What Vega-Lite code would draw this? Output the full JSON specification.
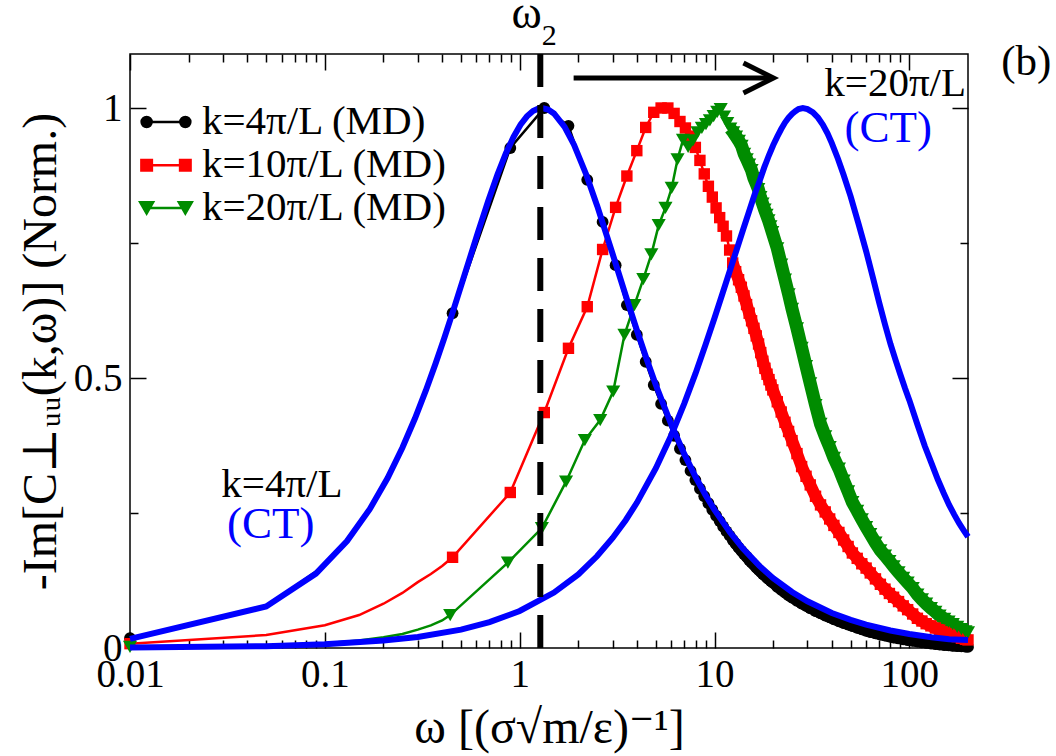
{
  "$schema": "https://vega.github.io/schema/vega-lite/v6.json",
  "width": 838,
  "height": 594,
  "autosize": {"type": "none"},
  "padding": {"left": 130, "top": 54, "right": 88, "bottom": 108},
  "background": "white",
  "datasets": {
    "md": [
      {"k": "4π/L", "w": 0.01, "v": 0.018},
      {"k": "4π/L", "w": 0.05, "v": 0.077},
      {"k": "4π/L", "w": 0.1, "v": 0.153},
      {"k": "4π/L", "w": 0.15, "v": 0.228},
      {"k": "4π/L", "w": 0.2, "v": 0.3},
      {"k": "4π/L", "w": 0.25, "v": 0.371},
      {"k": "4π/L", "w": 0.3, "v": 0.438},
      {"k": "4π/L", "w": 0.35, "v": 0.502},
      {"k": "4π/L", "w": 0.4, "v": 0.562},
      {"k": "4π/L", "w": 0.4525, "v": 0.62},
      {"k": "4π/L", "w": 0.895, "v": 0.926},
      {"k": "4π/L", "w": 1.3375, "v": 1.0},
      {"k": "4π/L", "w": 1.78, "v": 0.967},
      {"k": "4π/L", "w": 2.2225, "v": 0.867},
      {"k": "4π/L", "w": 2.665, "v": 0.789},
      {"k": "4π/L", "w": 3.1075, "v": 0.709},
      {"k": "4π/L", "w": 3.55, "v": 0.635},
      {"k": "4π/L", "w": 3.9925, "v": 0.58},
      {"k": "4π/L", "w": 4.435, "v": 0.53},
      {"k": "4π/L", "w": 4.8775, "v": 0.487},
      {"k": "4π/L", "w": 5.32, "v": 0.452},
      {"k": "4π/L", "w": 5.7625, "v": 0.421},
      {"k": "4π/L", "w": 6.205, "v": 0.393},
      {"k": "4π/L", "w": 6.6475, "v": 0.369},
      {"k": "4π/L", "w": 7.09, "v": 0.348},
      {"k": "4π/L", "w": 7.5325, "v": 0.328},
      {"k": "4π/L", "w": 7.975, "v": 0.311},
      {"k": "4π/L", "w": 8.4175, "v": 0.295},
      {"k": "4π/L", "w": 8.86, "v": 0.281},
      {"k": "4π/L", "w": 9.3025, "v": 0.268},
      {"k": "4π/L", "w": 9.745, "v": 0.256},
      {"k": "4π/L", "w": 10.1875, "v": 0.245},
      {"k": "4π/L", "w": 10.63, "v": 0.235},
      {"k": "4π/L", "w": 11.07, "v": 0.225},
      {"k": "4π/L", "w": 11.52, "v": 0.216},
      {"k": "4π/L", "w": 11.96, "v": 0.208},
      {"k": "4π/L", "w": 12.4, "v": 0.2},
      {"k": "4π/L", "w": 12.84, "v": 0.193},
      {"k": "4π/L", "w": 13.29, "v": 0.186},
      {"k": "4π/L", "w": 13.73, "v": 0.18},
      {"k": "4π/L", "w": 14.17, "v": 0.174},
      {"k": "4π/L", "w": 14.61, "v": 0.169},
      {"k": "4π/L", "w": 15.06, "v": 0.163},
      {"k": "4π/L", "w": 15.5, "v": 0.158},
      {"k": "4π/L", "w": 15.94, "v": 0.154},
      {"k": "4π/L", "w": 16.38, "v": 0.149},
      {"k": "4π/L", "w": 16.83, "v": 0.145},
      {"k": "4π/L", "w": 17.27, "v": 0.141},
      {"k": "4π/L", "w": 17.71, "v": 0.137},
      {"k": "4π/L", "w": 18.15, "v": 0.134},
      {"k": "4π/L", "w": 18.6, "v": 0.13},
      {"k": "4π/L", "w": 19.04, "v": 0.127},
      {"k": "4π/L", "w": 19.48, "v": 0.124},
      {"k": "4π/L", "w": 19.92, "v": 0.121},
      {"k": "4π/L", "w": 21, "v": 0.1135},
      {"k": "4π/L", "w": 22, "v": 0.1078},
      {"k": "4π/L", "w": 23, "v": 0.1025},
      {"k": "4π/L", "w": 24, "v": 0.0977},
      {"k": "4π/L", "w": 25, "v": 0.0933},
      {"k": "4π/L", "w": 26.5, "v": 0.0876},
      {"k": "4π/L", "w": 28, "v": 0.0824},
      {"k": "4π/L", "w": 29.5, "v": 0.0779},
      {"k": "4π/L", "w": 31, "v": 0.0737},
      {"k": "4π/L", "w": 33, "v": 0.0685},
      {"k": "4π/L", "w": 35, "v": 0.0642},
      {"k": "4π/L", "w": 37, "v": 0.06},
      {"k": "4π/L", "w": 39, "v": 0.0566},
      {"k": "4π/L", "w": 41, "v": 0.0533},
      {"k": "4π/L", "w": 43.5, "v": 0.0496},
      {"k": "4π/L", "w": 46, "v": 0.0463},
      {"k": "4π/L", "w": 48.5, "v": 0.0434},
      {"k": "4π/L", "w": 51, "v": 0.0408},
      {"k": "4π/L", "w": 54, "v": 0.0375},
      {"k": "4π/L", "w": 57, "v": 0.0347},
      {"k": "4π/L", "w": 60, "v": 0.032},
      {"k": "4π/L", "w": 63, "v": 0.0297},
      {"k": "4π/L", "w": 67, "v": 0.0272},
      {"k": "4π/L", "w": 71, "v": 0.0249},
      {"k": "4π/L", "w": 75, "v": 0.0229},
      {"k": "4π/L", "w": 79, "v": 0.021},
      {"k": "4π/L", "w": 83, "v": 0.0194},
      {"k": "4π/L", "w": 88, "v": 0.0177},
      {"k": "4π/L", "w": 93, "v": 0.0162},
      {"k": "4π/L", "w": 98, "v": 0.0148},
      {"k": "4π/L", "w": 104, "v": 0.0133},
      {"k": "4π/L", "w": 110, "v": 0.0118},
      {"k": "4π/L", "w": 116, "v": 0.0105},
      {"k": "4π/L", "w": 122, "v": 0.0094},
      {"k": "4π/L", "w": 129, "v": 0.0083},
      {"k": "4π/L", "w": 136, "v": 0.0073},
      {"k": "4π/L", "w": 143, "v": 0.0064},
      {"k": "4π/L", "w": 151, "v": 0.0055},
      {"k": "4π/L", "w": 159, "v": 0.0048},
      {"k": "4π/L", "w": 167, "v": 0.0041},
      {"k": "4π/L", "w": 176, "v": 0.0034},
      {"k": "4π/L", "w": 185, "v": 0.003},
      {"k": "4π/L", "w": 194, "v": 0.0025},
      {"k": "4π/L", "w": 200, "v": 0.002},

      {"k": "10π/L", "w": 0.01, "v": 0.008},
      {"k": "10π/L", "w": 0.05, "v": 0.024},
      {"k": "10π/L", "w": 0.1, "v": 0.042},
      {"k": "10π/L", "w": 0.15, "v": 0.061},
      {"k": "10π/L", "w": 0.2, "v": 0.082},
      {"k": "10π/L", "w": 0.25, "v": 0.102},
      {"k": "10π/L", "w": 0.3, "v": 0.122},
      {"k": "10π/L", "w": 0.35, "v": 0.137},
      {"k": "10π/L", "w": 0.4, "v": 0.152},
      {"k": "10π/L", "w": 0.4525, "v": 0.168},
      {"k": "10π/L", "w": 0.895, "v": 0.288},
      {"k": "10π/L", "w": 1.3375, "v": 0.436},
      {"k": "10π/L", "w": 1.78, "v": 0.555},
      {"k": "10π/L", "w": 2.2225, "v": 0.632},
      {"k": "10π/L", "w": 2.665, "v": 0.738},
      {"k": "10π/L", "w": 3.1075, "v": 0.816},
      {"k": "10π/L", "w": 3.55, "v": 0.874},
      {"k": "10π/L", "w": 3.9925, "v": 0.921},
      {"k": "10π/L", "w": 4.435, "v": 0.964},
      {"k": "10π/L", "w": 4.8775, "v": 0.992},
      {"k": "10π/L", "w": 5.32, "v": 1.0},
      {"k": "10π/L", "w": 5.7625, "v": 1.0},
      {"k": "10π/L", "w": 6.205, "v": 0.99},
      {"k": "10π/L", "w": 6.6475, "v": 0.975},
      {"k": "10π/L", "w": 7.09, "v": 0.963},
      {"k": "10π/L", "w": 7.5325, "v": 0.948},
      {"k": "10π/L", "w": 7.975, "v": 0.927},
      {"k": "10π/L", "w": 8.4175, "v": 0.903},
      {"k": "10π/L", "w": 8.86, "v": 0.878},
      {"k": "10π/L", "w": 9.3025, "v": 0.855},
      {"k": "10π/L", "w": 9.745, "v": 0.835},
      {"k": "10π/L", "w": 10.1875, "v": 0.815},
      {"k": "10π/L", "w": 10.63, "v": 0.797},
      {"k": "10π/L", "w": 11.07, "v": 0.781},
      {"k": "10π/L", "w": 11.52, "v": 0.763},
      {"k": "10π/L", "w": 11.96, "v": 0.737},
      {"k": "10π/L", "w": 12.4, "v": 0.713},
      {"k": "10π/L", "w": 12.84, "v": 0.697},
      {"k": "10π/L", "w": 13.29, "v": 0.682},
      {"k": "10π/L", "w": 13.73, "v": 0.668},
      {"k": "10π/L", "w": 14.17, "v": 0.652},
      {"k": "10π/L", "w": 14.61, "v": 0.636},
      {"k": "10π/L", "w": 15.06, "v": 0.62},
      {"k": "10π/L", "w": 15.5, "v": 0.606},
      {"k": "10π/L", "w": 15.94, "v": 0.592},
      {"k": "10π/L", "w": 16.38, "v": 0.578},
      {"k": "10π/L", "w": 16.83, "v": 0.563},
      {"k": "10π/L", "w": 17.27, "v": 0.547},
      {"k": "10π/L", "w": 17.71, "v": 0.531},
      {"k": "10π/L", "w": 18.15, "v": 0.518},
      {"k": "10π/L", "w": 18.6, "v": 0.507},
      {"k": "10π/L", "w": 19.04, "v": 0.497},
      {"k": "10π/L", "w": 19.48, "v": 0.487},
      {"k": "10π/L", "w": 19.92, "v": 0.478},
      {"k": "10π/L", "w": 21, "v": 0.456},
      {"k": "10π/L", "w": 22, "v": 0.437},
      {"k": "10π/L", "w": 23, "v": 0.418},
      {"k": "10π/L", "w": 24, "v": 0.401},
      {"k": "10π/L", "w": 25, "v": 0.384},
      {"k": "10π/L", "w": 26.5, "v": 0.36},
      {"k": "10π/L", "w": 28, "v": 0.336},
      {"k": "10π/L", "w": 29.5, "v": 0.318},
      {"k": "10π/L", "w": 31, "v": 0.302},
      {"k": "10π/L", "w": 33, "v": 0.281},
      {"k": "10π/L", "w": 35, "v": 0.265},
      {"k": "10π/L", "w": 37, "v": 0.252},
      {"k": "10π/L", "w": 39, "v": 0.239},
      {"k": "10π/L", "w": 41, "v": 0.227},
      {"k": "10π/L", "w": 43.5, "v": 0.214},
      {"k": "10π/L", "w": 46, "v": 0.2},
      {"k": "10π/L", "w": 48.5, "v": 0.188},
      {"k": "10π/L", "w": 51, "v": 0.176},
      {"k": "10π/L", "w": 54, "v": 0.166},
      {"k": "10π/L", "w": 57, "v": 0.156},
      {"k": "10π/L", "w": 60, "v": 0.148},
      {"k": "10π/L", "w": 63, "v": 0.139},
      {"k": "10π/L", "w": 67, "v": 0.128},
      {"k": "10π/L", "w": 71, "v": 0.118},
      {"k": "10π/L", "w": 75, "v": 0.109},
      {"k": "10π/L", "w": 79, "v": 0.101},
      {"k": "10π/L", "w": 83, "v": 0.094},
      {"k": "10π/L", "w": 88, "v": 0.086},
      {"k": "10π/L", "w": 93, "v": 0.078},
      {"k": "10π/L", "w": 98, "v": 0.071},
      {"k": "10π/L", "w": 104, "v": 0.063},
      {"k": "10π/L", "w": 110, "v": 0.055},
      {"k": "10π/L", "w": 116, "v": 0.05},
      {"k": "10π/L", "w": 122, "v": 0.045},
      {"k": "10π/L", "w": 129, "v": 0.041},
      {"k": "10π/L", "w": 136, "v": 0.037},
      {"k": "10π/L", "w": 143, "v": 0.034},
      {"k": "10π/L", "w": 151, "v": 0.03},
      {"k": "10π/L", "w": 159, "v": 0.027},
      {"k": "10π/L", "w": 167, "v": 0.024},
      {"k": "10π/L", "w": 176, "v": 0.021},
      {"k": "10π/L", "w": 185, "v": 0.018},
      {"k": "10π/L", "w": 194, "v": 0.016},
      {"k": "10π/L", "w": 200, "v": 0.015},

      {"k": "20π/L", "w": 0.01, "v": 0.002},
      {"k": "20π/L", "w": 0.05, "v": 0.004},
      {"k": "20π/L", "w": 0.1, "v": 0.009},
      {"k": "20π/L", "w": 0.15, "v": 0.014},
      {"k": "20π/L", "w": 0.2, "v": 0.02},
      {"k": "20π/L", "w": 0.25, "v": 0.026},
      {"k": "20π/L", "w": 0.3, "v": 0.034},
      {"k": "20π/L", "w": 0.35, "v": 0.042},
      {"k": "20π/L", "w": 0.4, "v": 0.051},
      {"k": "20π/L", "w": 0.44, "v": 0.061},
      {"k": "20π/L", "w": 0.87, "v": 0.158},
      {"k": "20π/L", "w": 1.3, "v": 0.222},
      {"k": "20π/L", "w": 1.73, "v": 0.308},
      {"k": "20π/L", "w": 2.16, "v": 0.385},
      {"k": "20π/L", "w": 2.59, "v": 0.422},
      {"k": "20π/L", "w": 3.02, "v": 0.475},
      {"k": "20π/L", "w": 3.45, "v": 0.58},
      {"k": "20π/L", "w": 3.88, "v": 0.635},
      {"k": "20π/L", "w": 4.31, "v": 0.683},
      {"k": "20π/L", "w": 4.74, "v": 0.729},
      {"k": "20π/L", "w": 5.17, "v": 0.783},
      {"k": "20π/L", "w": 5.6, "v": 0.815},
      {"k": "20π/L", "w": 6.03, "v": 0.852},
      {"k": "20π/L", "w": 6.46, "v": 0.905},
      {"k": "20π/L", "w": 6.89, "v": 0.941},
      {"k": "20π/L", "w": 7.32, "v": 0.928},
      {"k": "20π/L", "w": 7.75, "v": 0.94},
      {"k": "20π/L", "w": 8.18, "v": 0.955},
      {"k": "20π/L", "w": 8.61, "v": 0.963},
      {"k": "20π/L", "w": 9.04, "v": 0.97},
      {"k": "20π/L", "w": 9.47, "v": 0.977},
      {"k": "20π/L", "w": 9.9, "v": 0.985},
      {"k": "20π/L", "w": 10.33, "v": 0.993},
      {"k": "20π/L", "w": 10.76, "v": 0.998},
      {"k": "20π/L", "w": 11.19, "v": 0.984},
      {"k": "20π/L", "w": 11.62, "v": 0.972},
      {"k": "20π/L", "w": 12.05, "v": 0.962},
      {"k": "20π/L", "w": 12.48, "v": 0.955},
      {"k": "20π/L", "w": 12.91, "v": 0.947},
      {"k": "20π/L", "w": 13.34, "v": 0.939},
      {"k": "20π/L", "w": 13.77, "v": 0.93},
      {"k": "20π/L", "w": 14.2, "v": 0.915},
      {"k": "20π/L", "w": 14.63, "v": 0.905},
      {"k": "20π/L", "w": 15.06, "v": 0.895},
      {"k": "20π/L", "w": 15.49, "v": 0.885},
      {"k": "20π/L", "w": 15.92, "v": 0.87},
      {"k": "20π/L", "w": 16.35, "v": 0.86},
      {"k": "20π/L", "w": 16.78, "v": 0.85},
      {"k": "20π/L", "w": 17.21, "v": 0.835},
      {"k": "20π/L", "w": 17.64, "v": 0.823},
      {"k": "20π/L", "w": 18.07, "v": 0.812},
      {"k": "20π/L", "w": 18.5, "v": 0.802},
      {"k": "20π/L", "w": 18.93, "v": 0.792},
      {"k": "20π/L", "w": 19.36, "v": 0.781},
      {"k": "20π/L", "w": 19.79, "v": 0.77},
      {"k": "20π/L", "w": 21, "v": 0.74},
      {"k": "20π/L", "w": 22, "v": 0.71},
      {"k": "20π/L", "w": 23, "v": 0.682},
      {"k": "20π/L", "w": 24, "v": 0.655},
      {"k": "20π/L", "w": 25, "v": 0.628},
      {"k": "20π/L", "w": 26.5, "v": 0.592},
      {"k": "20π/L", "w": 28, "v": 0.556},
      {"k": "20π/L", "w": 29.5, "v": 0.522},
      {"k": "20π/L", "w": 31, "v": 0.49},
      {"k": "20π/L", "w": 33, "v": 0.45},
      {"k": "20π/L", "w": 35, "v": 0.415},
      {"k": "20π/L", "w": 37, "v": 0.392},
      {"k": "20π/L", "w": 39, "v": 0.372},
      {"k": "20π/L", "w": 41, "v": 0.352},
      {"k": "20π/L", "w": 43.5, "v": 0.332},
      {"k": "20π/L", "w": 46, "v": 0.31},
      {"k": "20π/L", "w": 48.5, "v": 0.29},
      {"k": "20π/L", "w": 51, "v": 0.27},
      {"k": "20π/L", "w": 54, "v": 0.254},
      {"k": "20π/L", "w": 57, "v": 0.238},
      {"k": "20π/L", "w": 60, "v": 0.224},
      {"k": "20π/L", "w": 63, "v": 0.211},
      {"k": "20π/L", "w": 67, "v": 0.195},
      {"k": "20π/L", "w": 71, "v": 0.181},
      {"k": "20π/L", "w": 75, "v": 0.171},
      {"k": "20π/L", "w": 79, "v": 0.161},
      {"k": "20π/L", "w": 83, "v": 0.151},
      {"k": "20π/L", "w": 88, "v": 0.14},
      {"k": "20π/L", "w": 93, "v": 0.13},
      {"k": "20π/L", "w": 98, "v": 0.121},
      {"k": "20π/L", "w": 104, "v": 0.111},
      {"k": "20π/L", "w": 110, "v": 0.099},
      {"k": "20π/L", "w": 116, "v": 0.09},
      {"k": "20π/L", "w": 122, "v": 0.082},
      {"k": "20π/L", "w": 129, "v": 0.074},
      {"k": "20π/L", "w": 136, "v": 0.067},
      {"k": "20π/L", "w": 143, "v": 0.06},
      {"k": "20π/L", "w": 151, "v": 0.054},
      {"k": "20π/L", "w": 159, "v": 0.049},
      {"k": "20π/L", "w": 167, "v": 0.044},
      {"k": "20π/L", "w": 176, "v": 0.039},
      {"k": "20π/L", "w": 185, "v": 0.035},
      {"k": "20π/L", "w": 194, "v": 0.031},
      {"k": "20π/L", "w": 200, "v": 0.029}
    ],
    "ct": [
      {"k": "4π/L", "w": 0.01, "v": 0.017},
      {"k": "4π/L", "w": 0.05, "v": 0.0768},
      {"k": "4π/L", "w": 0.09, "v": 0.1378},
      {"k": "4π/L", "w": 0.13, "v": 0.198},
      {"k": "4π/L", "w": 0.17, "v": 0.2571},
      {"k": "4π/L", "w": 0.21, "v": 0.3148},
      {"k": "4π/L", "w": 0.25, "v": 0.3709},
      {"k": "4π/L", "w": 0.29, "v": 0.425},
      {"k": "4π/L", "w": 0.33, "v": 0.477},
      {"k": "4π/L", "w": 0.37, "v": 0.5266},
      {"k": "4π/L", "w": 0.41, "v": 0.5737},
      {"k": "4π/L", "w": 0.45, "v": 0.6183},
      {"k": "4π/L", "w": 0.53, "v": 0.6992},
      {"k": "4π/L", "w": 0.61, "v": 0.7691},
      {"k": "4π/L", "w": 0.69, "v": 0.8282},
      {"k": "4π/L", "w": 0.77, "v": 0.877},
      {"k": "4π/L", "w": 0.85, "v": 0.9161},
      {"k": "4π/L", "w": 0.93, "v": 0.9464},
      {"k": "4π/L", "w": 1.01, "v": 0.969},
      {"k": "4π/L", "w": 1.09, "v": 0.9846},
      {"k": "4π/L", "w": 1.17, "v": 0.9945},
      {"k": "4π/L", "w": 1.25, "v": 0.9992},
      {"k": "4π/L", "w": 1.3, "v": 1.0},
      {"k": "4π/L", "w": 1.4, "v": 0.9973},
      {"k": "4π/L", "w": 1.5, "v": 0.9899},
      {"k": "4π/L", "w": 1.7, "v": 0.9651},
      {"k": "4π/L", "w": 1.9, "v": 0.9321},
      {"k": "4π/L", "w": 2.2, "v": 0.876},
      {"k": "4π/L", "w": 2.5, "v": 0.8186},
      {"k": "4π/L", "w": 3, "v": 0.7297},
      {"k": "4π/L", "w": 3.5, "v": 0.6528},
      {"k": "4π/L", "w": 4, "v": 0.5879},
      {"k": "4π/L", "w": 4.5, "v": 0.5333},
      {"k": "4π/L", "w": 5, "v": 0.4871},
      {"k": "4π/L", "w": 6, "v": 0.4139},
      {"k": "4π/L", "w": 7, "v": 0.359},
      {"k": "4π/L", "w": 8, "v": 0.3166},
      {"k": "4π/L", "w": 9, "v": 0.283},
      {"k": "4π/L", "w": 10, "v": 0.2557},
      {"k": "4π/L", "w": 12, "v": 0.2142},
      {"k": "4π/L", "w": 14, "v": 0.1841},
      {"k": "4π/L", "w": 17, "v": 0.152},
      {"k": "4π/L", "w": 20, "v": 0.1294},
      {"k": "4π/L", "w": 25, "v": 0.1037},
      {"k": "4π/L", "w": 30, "v": 0.0865},
      {"k": "4π/L", "w": 40, "v": 0.0649},
      {"k": "4π/L", "w": 50, "v": 0.052},
      {"k": "4π/L", "w": 60, "v": 0.0433},
      {"k": "4π/L", "w": 80, "v": 0.0325},
      {"k": "4π/L", "w": 100, "v": 0.026},
      {"k": "4π/L", "w": 130, "v": 0.02},
      {"k": "4π/L", "w": 160, "v": 0.0163},
      {"k": "4π/L", "w": 200, "v": 0.015},

      {"k": "20π/L", "w": 0.01, "v": 0.0007},
      {"k": "20π/L", "w": 0.05, "v": 0.0034},
      {"k": "20π/L", "w": 0.1, "v": 0.0068},
      {"k": "20π/L", "w": 0.2, "v": 0.0137},
      {"k": "20π/L", "w": 0.3, "v": 0.0205},
      {"k": "20π/L", "w": 0.5, "v": 0.0341},
      {"k": "20π/L", "w": 0.7, "v": 0.0478},
      {"k": "20π/L", "w": 1, "v": 0.0685},
      {"k": "20π/L", "w": 1.5, "v": 0.1027},
      {"k": "20π/L", "w": 2, "v": 0.1362},
      {"k": "20π/L", "w": 2.5, "v": 0.1703},
      {"k": "20π/L", "w": 3, "v": 0.2037},
      {"k": "20π/L", "w": 3.5, "v": 0.2367},
      {"k": "20π/L", "w": 4, "v": 0.2693},
      {"k": "20π/L", "w": 5, "v": 0.333},
      {"k": "20π/L", "w": 6, "v": 0.394},
      {"k": "20π/L", "w": 7, "v": 0.453},
      {"k": "20π/L", "w": 8, "v": 0.509},
      {"k": "20π/L", "w": 9, "v": 0.562},
      {"k": "20π/L", "w": 10, "v": 0.611},
      {"k": "20π/L", "w": 11, "v": 0.657},
      {"k": "20π/L", "w": 12, "v": 0.699},
      {"k": "20π/L", "w": 13, "v": 0.738},
      {"k": "20π/L", "w": 14, "v": 0.774},
      {"k": "20π/L", "w": 15, "v": 0.807},
      {"k": "20π/L", "w": 16, "v": 0.838},
      {"k": "20π/L", "w": 17, "v": 0.864},
      {"k": "20π/L", "w": 18, "v": 0.89},
      {"k": "20π/L", "w": 19, "v": 0.912},
      {"k": "20π/L", "w": 20, "v": 0.931},
      {"k": "20π/L", "w": 21, "v": 0.947},
      {"k": "20π/L", "w": 22, "v": 0.961},
      {"k": "20π/L", "w": 23, "v": 0.973},
      {"k": "20π/L", "w": 24, "v": 0.982},
      {"k": "20π/L", "w": 25, "v": 0.989},
      {"k": "20π/L", "w": 26, "v": 0.994},
      {"k": "20π/L", "w": 27, "v": 0.998},
      {"k": "20π/L", "w": 28.4, "v": 1.0},
      {"k": "20π/L", "w": 30, "v": 0.998},
      {"k": "20π/L", "w": 32, "v": 0.992},
      {"k": "20π/L", "w": 34, "v": 0.982},
      {"k": "20π/L", "w": 36, "v": 0.969},
      {"k": "20π/L", "w": 38, "v": 0.953},
      {"k": "20π/L", "w": 40, "v": 0.935},
      {"k": "20π/L", "w": 43, "v": 0.906},
      {"k": "20π/L", "w": 46, "v": 0.876},
      {"k": "20π/L", "w": 50, "v": 0.836},
      {"k": "20π/L", "w": 55, "v": 0.784},
      {"k": "20π/L", "w": 60, "v": 0.735},
      {"k": "20π/L", "w": 65, "v": 0.686},
      {"k": "20π/L", "w": 70, "v": 0.64},
      {"k": "20π/L", "w": 75, "v": 0.599},
      {"k": "20π/L", "w": 80, "v": 0.563},
      {"k": "20π/L", "w": 85, "v": 0.533},
      {"k": "20π/L", "w": 90, "v": 0.506},
      {"k": "20π/L", "w": 95, "v": 0.481},
      {"k": "20π/L", "w": 100, "v": 0.459},
      {"k": "20π/L", "w": 110, "v": 0.414},
      {"k": "20π/L", "w": 120, "v": 0.374},
      {"k": "20π/L", "w": 130, "v": 0.342},
      {"k": "20π/L", "w": 140, "v": 0.312},
      {"k": "20π/L", "w": 150, "v": 0.287},
      {"k": "20π/L", "w": 160, "v": 0.265},
      {"k": "20π/L", "w": 170, "v": 0.247},
      {"k": "20π/L", "w": 180, "v": 0.231},
      {"k": "20π/L", "w": 190, "v": 0.218},
      {"k": "20π/L", "w": 200, "v": 0.206}
    ]
  },
  "layer": [
    {
      "data": {"name": "md"},
      "mark": {"type": "line", "strokeWidth": 2.5},
      "encoding": {
        "x": {"field": "w", "type": "quantitative", "scale": {"type": "log", "domain": [0.01, 200], "nice": false},
          "axis": {"orient": "bottom", "values": [0.02,0.03,0.04,0.05,0.06,0.07,0.08,0.09,0.2,0.3,0.4,0.5,0.6,0.7,0.8,0.9,2,3,4,5,6,7,8,9,20,30,40,50,60,70,80,90], "labels": false, "tickSize": -8, "title": null}},
        "y": {"field": "v", "type": "quantitative", "scale": {"domain": [0, 1.1], "nice": false},
          "axis": {"orient": "left", "values": [0.25, 0.75], "labels": false, "tickSize": -8, "title": null}},
        "color": {"field": "k", "type": "nominal", "scale": {"domain": ["4π/L", "10π/L", "20π/L"], "range": ["#000000", "#ff0000", "#008c00"]}, "legend": null}
      }
    },
    {
      "data": {"name": "md"},
      "transform": [{"filter": "datum.w >= 12"}],
      "mark": {"type": "line", "strokeCap": "butt"},
      "encoding": {
        "x": {"field": "w", "type": "quantitative", "axis": null},
        "y": {"field": "v", "type": "quantitative", "axis": null},
        "color": {"field": "k", "type": "nominal", "legend": null},
        "strokeWidth": {"field": "k", "type": "nominal", "scale": {"domain": ["4π/L", "10π/L", "20π/L"], "range": [11, 13, 15]}, "legend": null}
      }
    },
    {
      "data": {"name": "md"},
      "transform": [{"filter": "datum.k == '4π/L' && (datum.w < 0.011 || datum.w > 0.43)"}],
      "mark": {"type": "point", "shape": "circle", "size": 140, "filled": true, "opacity": 1, "strokeWidth": 0, "color": "#000000"},
      "encoding": {
        "x": {"field": "w", "type": "quantitative",
          "axis": {"orient": "top", "values": [0.01, 0.1, 1, 10, 100], "labels": false, "tickSize": -16, "title": null}},
        "y": {"field": "v", "type": "quantitative",
          "axis": {"orient": "right", "values": [0, 0.5, 1], "labels": false, "tickSize": -16, "title": null}}
      }
    },
    {
      "data": {"name": "md"},
      "transform": [{"filter": "datum.k == '10π/L' && (datum.w < 0.011 || datum.w > 0.43)"}],
      "mark": {"type": "point", "shape": "square", "size": 130, "filled": true, "opacity": 1, "strokeWidth": 0, "color": "#ff0000"},
      "encoding": {
        "x": {"field": "w", "type": "quantitative", "axis": null},
        "y": {"field": "v", "type": "quantitative", "axis": null}
      }
    },
    {
      "data": {"name": "md"},
      "transform": [{"filter": "datum.k == '20π/L' && (datum.w < 0.011 || datum.w > 0.43)"}],
      "mark": {"type": "point", "shape": "triangle-down", "size": 200, "filled": true, "opacity": 1, "strokeWidth": 0, "color": "#008c00"},
      "encoding": {
        "x": {"field": "w", "type": "quantitative", "axis": null},
        "y": {"field": "v", "type": "quantitative", "axis": null}
      }
    },
    {
      "data": {"name": "ct"},
      "mark": {"type": "line", "strokeWidth": 6, "color": "#0000ff"},
      "encoding": {
        "x": {"field": "w", "type": "quantitative",
          "axis": {"orient": "bottom", "values": [0.01, 0.1, 1, 10, 100], "format": "~g", "tickSize": -16, "labelPadding": 23,
            "labelFontSize": 39, "title": "ω [(σ√m/ε)⁻¹]", "titleFontSize": 48, "titlePadding": 10}},
        "y": {"field": "v", "type": "quantitative",
          "axis": {"orient": "left", "values": [0, 0.5, 1], "format": "~g", "tickSize": -16, "labelPadding": 24,
            "labelFontSize": 39, "title": "-Im[C⊥ᵤᵤ(k,ω)] (Norm.)", "titleFontSize": 48, "titlePadding": 8}},
        "detail": {"field": "k", "type": "nominal"}
      }
    },
    {
      "data": {"values": [{}]},
      "mark": {"type": "rule", "strokeDash": [33, 18], "strokeWidth": 6, "color": "black"},
      "encoding": {
        "x": {"datum": 1.276, "type": "quantitative",
          "axis": {"orient": "top", "values": [0.02,0.03,0.04,0.05,0.06,0.07,0.08,0.09,0.2,0.3,0.4,0.5,0.6,0.7,0.8,0.9,2,3,4,5,6,7,8,9,20,30,40,50,60,70,80,90], "labels": false, "tickSize": -8, "title": null}},
        "y": {"datum": 1.1, "type": "quantitative",
          "axis": {"orient": "right", "values": [0.25, 0.75], "labels": false, "tickSize": -8, "title": null}},
        "y2": {"datum": 0}
      }
    },
    {
      "data": {"values": [{}]},
      "mark": {"type": "point", "shape": "M-0.9,0L0.9,0M-1.133,0A0.233,0.233,0,1,0,-0.667,0A0.233,0.233,0,1,0,-1.133,0ZM0.667,0A0.233,0.233,0,1,0,1.133,0A0.233,0.233,0,1,0,0.667,0Z", "size": 1849, "filled": true, "fill": "#000000", "stroke": "#000000", "strokeWidth": 2.5, "opacity": 1},
      "encoding": {
        "x": {"datum": 0.0153, "type": "quantitative", "axis": null},
        "y": {"datum": 0.974, "type": "quantitative", "axis": null}
      }
    },
    {
      "data": {"values": [{}]},
      "mark": {"type": "point", "shape": "M-0.9,0L0.9,0M-1.144,-0.244H-0.656V0.244H-1.144ZM0.656,-0.244H1.144V0.244H0.656Z", "size": 1849, "filled": true, "fill": "#ff0000", "stroke": "#ff0000", "strokeWidth": 2.5, "opacity": 1},
      "encoding": {
        "x": {"datum": 0.0153, "type": "quantitative", "axis": null},
        "y": {"datum": 0.894, "type": "quantitative", "axis": null}
      }
    },
    {
      "data": {"values": [{}]},
      "mark": {"type": "point", "shape": "M-0.9,0L0.9,0M-1.2,-0.26L-0.6,-0.26L-0.9,0.26ZM0.6,-0.26L1.2,-0.26L0.9,0.26Z", "size": 1849, "filled": true, "fill": "#008c00", "stroke": "#008c00", "strokeWidth": 2.5, "opacity": 1},
      "encoding": {
        "x": {"datum": 0.0153, "type": "quantitative", "axis": null},
        "y": {"datum": 0.815, "type": "quantitative", "axis": null}
      }
    },
    {
      "data": {"values": [{}]},
      "mark": {"type": "text", "text": "k=4π/L (MD)", "fontSize": 41, "align": "left", "baseline": "middle", "color": "black"},
      "encoding": {
        "x": {"datum": 0.0234, "type": "quantitative", "axis": null},
        "y": {"datum": 0.974, "type": "quantitative", "axis": null}
      }
    },
    {
      "data": {"values": [{}]},
      "mark": {"type": "text", "text": "k=10π/L (MD)", "fontSize": 41, "align": "left", "baseline": "middle", "color": "black"},
      "encoding": {
        "x": {"datum": 0.0234, "type": "quantitative", "axis": null},
        "y": {"datum": 0.894, "type": "quantitative", "axis": null}
      }
    },
    {
      "data": {"values": [{}]},
      "mark": {"type": "text", "text": "k=20π/L (MD)", "fontSize": 41, "align": "left", "baseline": "middle", "color": "black"},
      "encoding": {
        "x": {"datum": 0.0234, "type": "quantitative", "axis": null},
        "y": {"datum": 0.815, "type": "quantitative", "axis": null}
      }
    },
    {
      "data": {"values": [{}]},
      "mark": {"type": "rule", "strokeWidth": 5, "color": "black"},
      "encoding": {
        "x": {"datum": 1.892, "type": "quantitative", "axis": null},
        "x2": {"datum": 19.6},
        "y": {"datum": 1.0556, "type": "quantitative", "axis": null}
      }
    },
    {
      "data": {"values": [{}]},
      "mark": {"type": "point", "shape": "M-2,-1L0,0L-2,1", "filled": false, "stroke": "black", "strokeWidth": 5, "size": 900, "opacity": 1, "strokeJoin": "miter"},
      "encoding": {
        "x": {"datum": 20.07, "type": "quantitative", "axis": null},
        "y": {"datum": 1.0556, "type": "quantitative", "axis": null}
      }
    },
    {
      "data": {"values": [{}]},
      "mark": {"type": "text", "text": "ω", "fontSize": 46, "align": "center", "baseline": "alphabetic", "color": "black"},
      "encoding": {
        "x": {"datum": 1.086, "type": "quantitative", "axis": null},
        "y": {"datum": 1.148, "type": "quantitative", "axis": null}
      }
    },
    {
      "data": {"values": [{}]},
      "mark": {"type": "text", "text": "2", "fontSize": 30, "align": "left", "baseline": "alphabetic", "color": "black"},
      "encoding": {
        "x": {"datum": 1.297, "type": "quantitative", "axis": null},
        "y": {"datum": 1.1167, "type": "quantitative", "axis": null}
      }
    },
    {
      "data": {"values": [{}]},
      "mark": {"type": "text", "text": "k=20π/L", "fontSize": 41, "align": "left", "baseline": "alphabetic", "color": "black"},
      "encoding": {
        "x": {"datum": 36.6, "type": "quantitative", "axis": null},
        "y": {"datum": 1.022, "type": "quantitative", "axis": null}
      }
    },
    {
      "data": {"values": [{}]},
      "mark": {"type": "text", "text": "(CT)", "fontSize": 45, "align": "center", "baseline": "alphabetic", "color": "#0000ff"},
      "encoding": {
        "x": {"datum": 78, "type": "quantitative", "axis": null},
        "y": {"datum": 0.937, "type": "quantitative", "axis": null}
      }
    },
    {
      "data": {"values": [{}]},
      "mark": {"type": "text", "text": "k=4π/L", "fontSize": 41, "align": "center", "baseline": "alphabetic", "color": "black"},
      "encoding": {
        "x": {"datum": 0.0602, "type": "quantitative", "axis": null},
        "y": {"datum": 0.28, "type": "quantitative", "axis": null}
      }
    },
    {
      "data": {"values": [{}]},
      "mark": {"type": "text", "text": "(CT)", "fontSize": 45, "align": "center", "baseline": "alphabetic", "color": "#0000ff"},
      "encoding": {
        "x": {"datum": 0.0528, "type": "quantitative", "axis": null},
        "y": {"datum": 0.204, "type": "quantitative", "axis": null}
      }
    },
    {
      "data": {"values": [{}]},
      "mark": {"type": "text", "text": "(b)", "fontSize": 43, "align": "center", "baseline": "alphabetic", "color": "black"},
      "encoding": {
        "x": {"datum": 398, "type": "quantitative", "axis": null},
        "y": {"datum": 1.061, "type": "quantitative", "axis": null}
      }
    }
  ],
  "resolve": {"axis": {"x": "independent", "y": "independent"}},
  "config": {
    "view": {"stroke": "#000000", "strokeWidth": 1.5},
    "font": "Liberation Serif, Times New Roman, DejaVu Serif, serif",
    "text": {"font": "Liberation Serif, Times New Roman, DejaVu Serif, serif"},
    "axis": {
      "domain": false, "grid": false,
      "tickColor": "#000000", "tickWidth": 1.5,
      "labelFont": "Liberation Serif, Times New Roman, DejaVu Serif, serif", "labelColor": "#000000", "labelFlush": false, "labelOverlap": false,
      "titleFont": "Liberation Serif, Times New Roman, DejaVu Serif, serif", "titleColor": "#000000", "titleFontWeight": "normal"
    }
  }
}
